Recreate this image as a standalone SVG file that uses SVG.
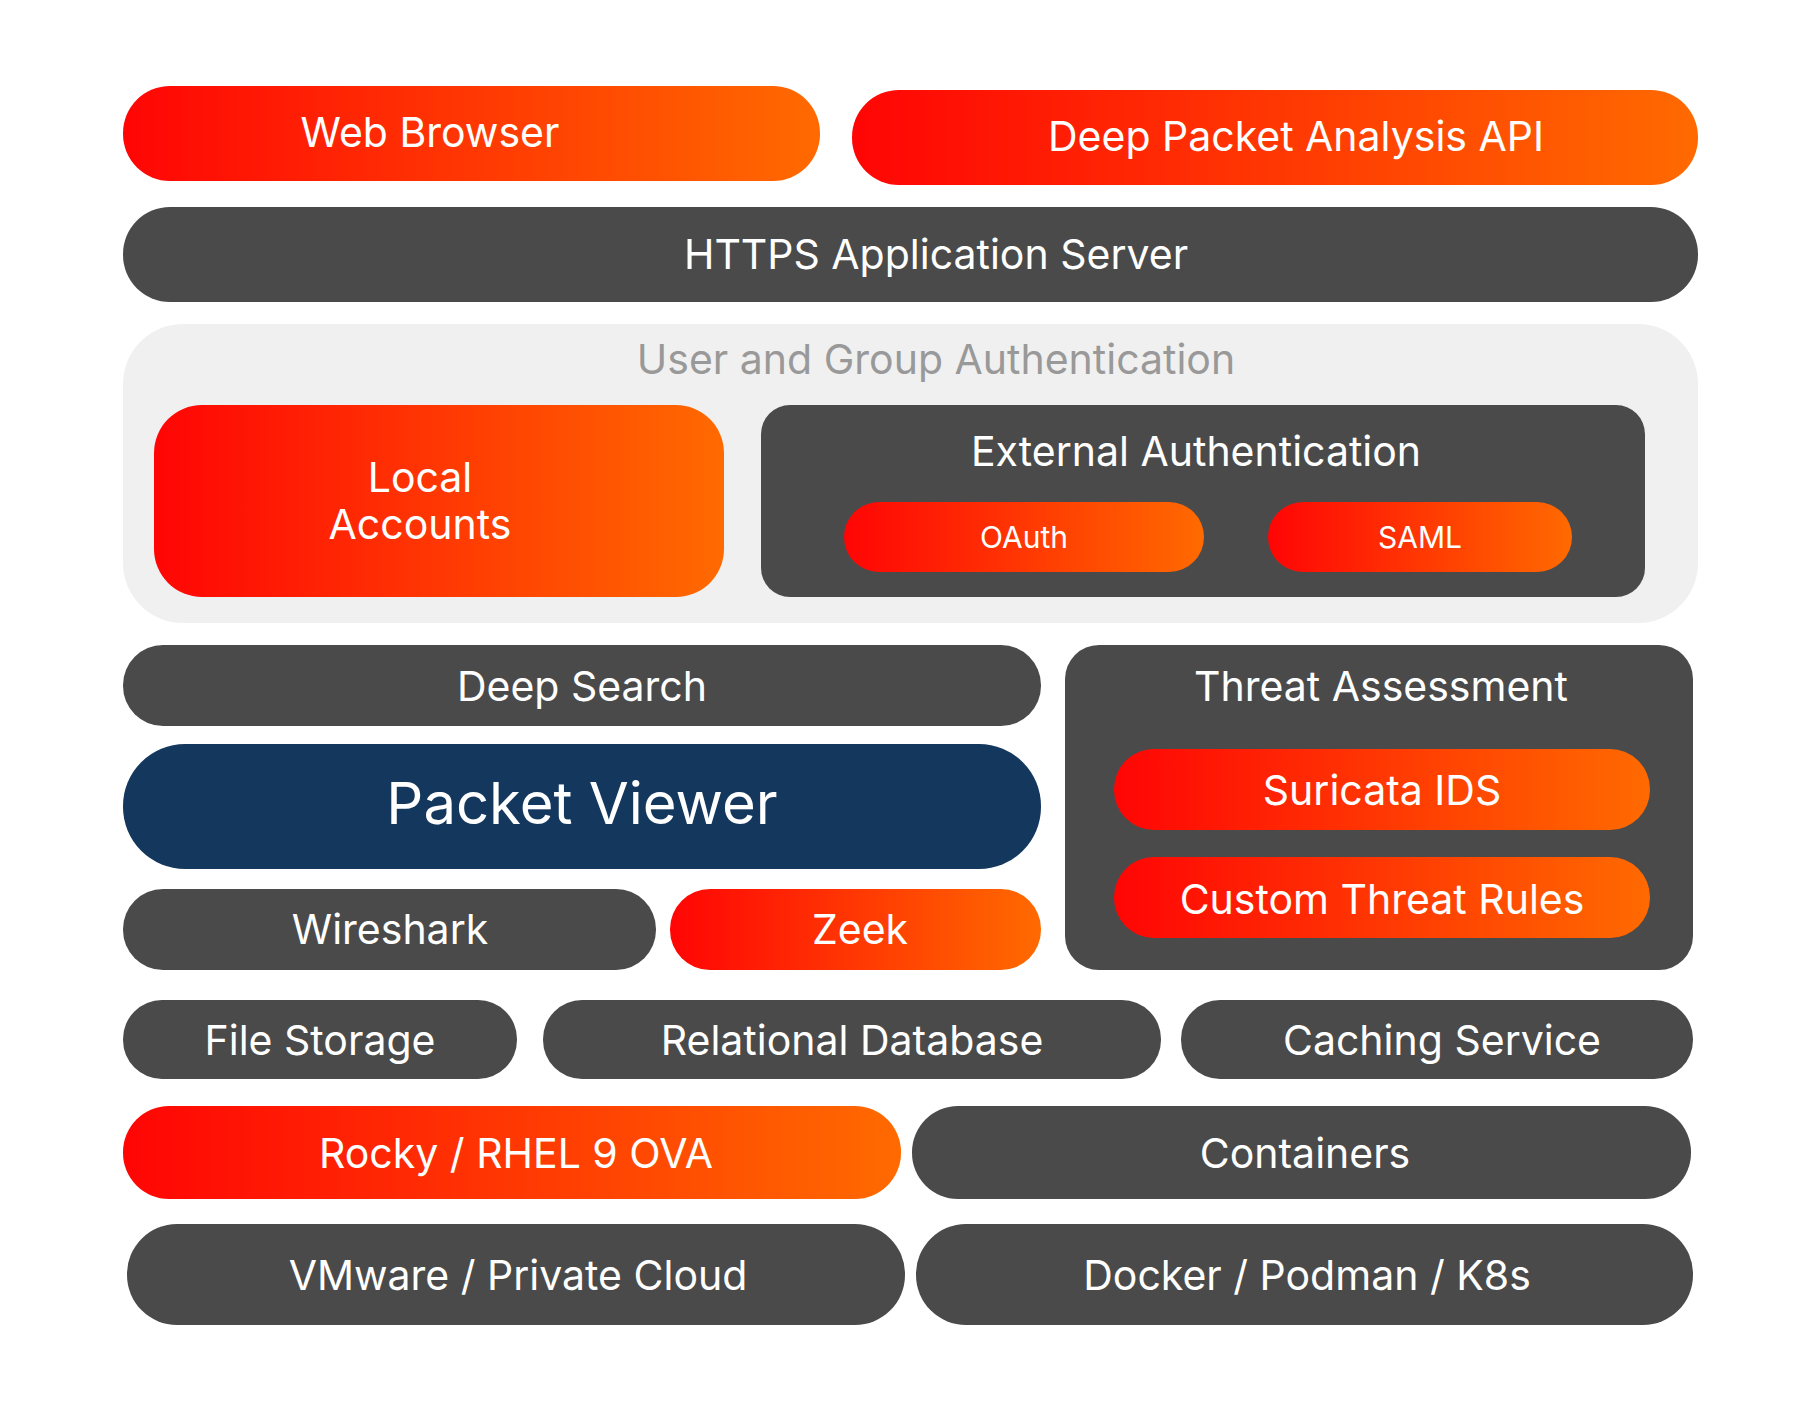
<svg xmlns="http://www.w3.org/2000/svg" width="1800" height="1424" viewBox="0 0 1800 1424">
<defs>
<linearGradient id="g" x1="0" y1="0" x2="1" y2="0"><stop offset="0" stop-color="#FF0505"/><stop offset="1" stop-color="#FF6A00"/></linearGradient>
<style>
.o{fill:url(#g)}.d{fill:#4A4A4A}.n{fill:#14375E}
text{font-family:Inter,"Open Sans",sans-serif;fill:#fff;text-anchor:middle;dominant-baseline:central}
.t{font-size:41px}.s{font-size:30px}.b{font-size:58px}
</style>
</defs>
<rect width="1800" height="1424" fill="#fff"/>
<g id="web"><rect class="o" x="123" y="86" width="697" height="95" rx="47"/><text class="t" x="430" y="132">Web Browser</text></g>
<g id="api"><rect class="o" x="852" y="90" width="846" height="95" rx="47"/><text class="t" x="1296" y="136">Deep Packet Analysis API</text></g>
<g id="https"><rect class="d" x="123" y="207" width="1575" height="95" rx="47"/><text class="t" x="936" y="254">HTTPS Application Server</text></g>
<g id="auth"><rect fill="#F0F0F0" x="123" y="324" width="1575" height="299" rx="60"/><text class="t" x="936" y="359" style="fill:#999">User and Group Authentication</text></g>
<g id="local"><rect class="o" x="154" y="405" width="570" height="192" rx="48"/><text class="t" x="420" y="477">Local</text><text class="t" x="420" y="524">Accounts</text></g>
<g id="ext"><rect class="d" x="761" y="405" width="884" height="192" rx="29"/><text class="t" x="1196" y="451">External Authentication</text></g>
<g id="oauth"><rect class="o" x="844" y="502" width="360" height="70" rx="35"/><text class="s" x="1024" y="537">OAuth</text></g>
<g id="saml"><rect class="o" x="1268" y="502" width="304" height="70" rx="35"/><text class="s" x="1420" y="537">SAML</text></g>
<g id="search"><rect class="d" x="123" y="645" width="918" height="81" rx="40"/><text class="t" x="582" y="686">Deep Search</text></g>
<g id="viewer"><rect class="n" x="123" y="744" width="918" height="125" rx="62"/><text class="b" x="582" y="803">Packet Viewer</text></g>
<g id="wireshark"><rect class="d" x="123" y="889" width="533" height="81" rx="40"/><text class="t" x="390" y="929">Wireshark</text></g>
<g id="zeek"><rect class="o" x="670" y="889" width="371" height="81" rx="40"/><text class="t" x="860" y="929">Zeek</text></g>
<g id="threat"><rect class="d" x="1065" y="645" width="628" height="325" rx="34"/><text class="t" x="1381" y="686">Threat Assessment</text></g>
<g id="suricata"><rect class="o" x="1114" y="749" width="536" height="81" rx="40"/><text class="t" x="1382" y="790">Suricata IDS</text></g>
<g id="custom"><rect class="o" x="1114" y="857" width="536" height="81" rx="40"/><text class="t" x="1382" y="899">Custom Threat Rules</text></g>
<g id="file"><rect class="d" x="123" y="1000" width="394" height="79" rx="39"/><text class="t" x="320" y="1040">File Storage</text></g>
<g id="rdb"><rect class="d" x="543" y="1000" width="618" height="79" rx="39"/><text class="t" x="852" y="1040">Relational Database</text></g>
<g id="cache"><rect class="d" x="1181" y="1000" width="512" height="79" rx="39"/><text class="t" x="1442" y="1040">Caching Service</text></g>
<g id="rocky"><rect class="o" x="123" y="1106" width="778" height="93" rx="46"/><text class="t" x="516" y="1153">Rocky / RHEL 9 OVA</text></g>
<g id="containers"><rect class="d" x="912" y="1106" width="779" height="93" rx="46"/><text class="t" x="1305" y="1153">Containers</text></g>
<g id="vmware"><rect class="d" x="127" y="1224" width="778" height="101" rx="50"/><text class="t" x="518" y="1275">VMware / Private Cloud</text></g>
<g id="docker"><rect class="d" x="916" y="1224" width="777" height="101" rx="50"/><text class="t" x="1307" y="1275">Docker / Podman / K8s</text></g>
<g id="connectors"/>
</svg>
